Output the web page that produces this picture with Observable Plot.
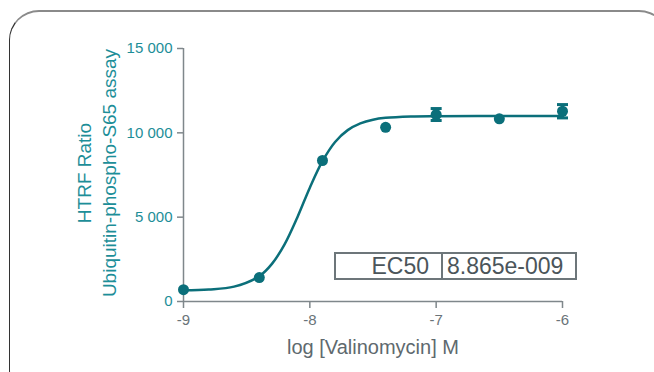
<!DOCTYPE html>
<html>
<head>
<meta charset="utf-8">
<script src="https://cdn.jsdelivr.net/npm/d3@7"></script>
<script src="https://cdn.jsdelivr.net/npm/@observablehq/plot@0.6"></script>
<style>
  html, body { margin: 0; padding: 0; background: #fff; }
  #wrap { position: relative; width: 654px; height: 372px; overflow: hidden; font-family: "Liberation Sans", Arial, sans-serif; }
  #frame { position: absolute; left: 9px; top: 10px; width: 660px; height: 390px; box-sizing: border-box;
           border: 1.5px solid #333; border-top: 2px solid #8a8a8a; border-radius: 30px; pointer-events: none; }
  #ec50 { position: absolute; left: 334px; top: 252px; width: 243px; height: 28px; box-sizing: border-box;
          border: 2px solid #6d767a; display: flex; color: #4b555a; font-size: 23px; line-height: 24px; }
  #ec50 .k { width: 107px; box-sizing: border-box; border-right: 2px solid #6d767a; text-align: right; padding-right: 12px; }
  #ec50 .v { flex: 1; padding-left: 4px; white-space: nowrap; }
</style>
</head>
<body>
<div id="wrap"></div>
<script>
// ---- data ----
const logConc = [-9, -8.4, -7.9, -7.4, -7, -6.5, -6];
const ratio   = [700, 1420, 8360, 10330, 11085, 10830, 11280];
const errSem  = [0, 0, 0, 0, 355, 0, 395];

// fitted curve
const fitX = [-9, -8.8, -8.6, -8.4, -8.3, -8.2, -8.1, -8.0, -7.9, -7.8, -7.7, -7.6, -7.5, -7.4, -7.2, -7.0, -6.5, -6.0];
const fitY = [660, 710, 880, 1500, 2230, 3390, 4970, 6750, 8320, 9460, 10160, 10560, 10780, 10890, 10970, 10990, 11000, 11000];

const xTicks = [-9, -8, -7, -6];
const yTicks = [0, 5000, 10000, 15000];
const xDomain = [-9, -6];
const yDomain = [0, 15000];
const xTitle = "log [Valinomycin] M";
const yTitle = ["HTRF Ratio", "Ubiquitin-phospho-S65 assay"];
const ec50Label = "EC50";
const ec50Value = "8.865e-009";

// ---- build ----
const teal = "#0b6f7a";
const tealText = "#1d8e98";
const grey = "#7f878b";
const greyText = "#6a7479";

const points = logConc.map((x, i) => ({x, y: ratio[i], e: errSem[i]}));
const errs = points.filter(d => d.e > 0);
const fit = fitX.map((x, i) => ({x, y: fitY[i]}));

const cap = {
  draw(ctx, size) {
    const w = Math.sqrt(size / Math.PI);
    ctx.moveTo(-w, 0);
    ctx.lineTo(w, 0);
  }
};

const chart = Plot.plot({
  width: 654,
  height: 372,
  marginLeft: 183,
  marginRight: 92,
  marginTop: 48,
  marginBottom: 71,
  style: {fontFamily: "'Liberation Sans', Arial, sans-serif", background: "transparent"},
  x: {domain: xDomain},
  y: {domain: yDomain},
  marks: [
    Plot.ruleY([yDomain[0]], {stroke: grey, strokeWidth: 1.5}),
    Plot.ruleX([xDomain[0]], {stroke: grey, strokeWidth: 1.5}),
    Plot.axisX({ticks: xTicks, tickFormat: d => String(d), tickSize: 7, tickPadding: 6, stroke: grey, fill: greyText, fontSize: 15, label: null, strokeWidth: 1.5}),
    Plot.axisY({ticks: yTicks, tickFormat: d => d3.format(",")(d).replace(/,/g, " "), tickSize: 6, tickPadding: 5, stroke: grey, fill: tealText, fontSize: 15, label: null, strokeWidth: 1.5}),
    Plot.text([xTitle], {text: d => d, frameAnchor: "bottom", dy: 52, fontSize: 20, fill: "#5e696e"}),
    Plot.text([yTitle.join("\n")], {text: d => d, frameAnchor: "left", textAnchor: "middle", rotate: -90, dx: -88, dy: -2, lineHeight: 1.3, fontSize: 19, fill: tealText}),
    Plot.line(fit, {x: "x", y: "y", curve: "catmull-rom", stroke: teal, strokeWidth: 2.5}),
    Plot.ruleX(errs, {x: "x", y1: d => d.y - d.e, y2: d => d.y + d.e, stroke: teal, strokeWidth: 3}),
    Plot.dot(errs, {x: "x", y: d => d.y + d.e, symbol: cap, r: 5.5, stroke: teal, strokeWidth: 3}),
    Plot.dot(errs, {x: "x", y: d => d.y - d.e, symbol: cap, r: 5.5, stroke: teal, strokeWidth: 3}),
    Plot.dot(points, {x: "x", y: "y", r: 5.5, fill: teal, stroke: "none"})
  ]
});

const wrap = document.getElementById("wrap");
wrap.appendChild(chart);
const frame = document.createElement("div");
frame.id = "frame";
wrap.appendChild(frame);
const box = document.createElement("div");
box.id = "ec50";
const k = document.createElement("div"); k.className = "k"; k.textContent = ec50Label;
const v = document.createElement("div"); v.className = "v"; v.textContent = ec50Value;
box.appendChild(k); box.appendChild(v);
wrap.appendChild(box);
</script>
</body>
</html>
